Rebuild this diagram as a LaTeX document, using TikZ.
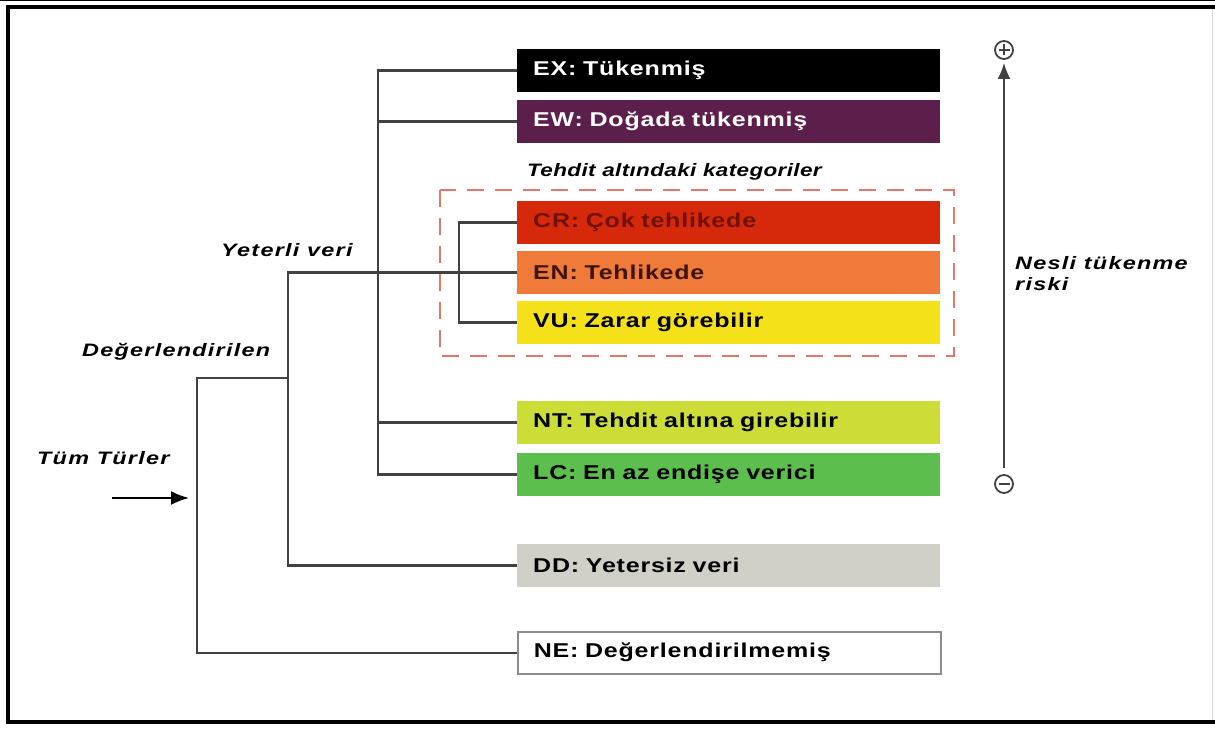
\documentclass[tikz,border=0pt]{standalone}
\usepackage{fontspec}
\setmainfont{Liberation Sans}
\newfontfamily\wfont[FakeStretch=1.25,LetterSpace=4]{Liberation Sans}
\newfontfamily\lfont[FakeStretch=1.25,LetterSpace=2]{Liberation Sans}
\newfontfamily\lwfont[FakeStretch=1.3,LetterSpace=7]{Liberation Sans}
\usetikzlibrary{arrows.meta}
\definecolor{treegray}{RGB}{65,65,65}
\definecolor{cEW}{RGB}{92,30,74}
\definecolor{cCR}{RGB}{214,40,10}
\definecolor{tCR}{RGB}{110,18,8}
\definecolor{cEN}{RGB}{240,122,58}
\definecolor{tEN}{RGB}{60,20,10}
\definecolor{cVU}{RGB}{245,225,25}
\definecolor{cNT}{RGB}{205,221,55}
\definecolor{cLC}{RGB}{92,190,76}
\definecolor{cDD}{RGB}{208,208,200}
\definecolor{cNEb}{RGB}{140,140,140}
\definecolor{dashred}{RGB}{225,120,110}
\begin{document}
\begin{tikzpicture}[x=1pt,y=-1pt,
  cat/.style={anchor=north west, minimum width=423pt, minimum height=43pt,
    inner xsep=16pt, inner ysep=0pt, text width=391pt, align=left,
    font=\wfont\bfseries\fontsize{20}{22}\selectfont},
  lab/.style={anchor=west, inner sep=0pt,
    font=\lwfont\bfseries\itshape\fontsize{18}{21}\selectfont},
  tree/.style={draw=treegray, line width=2.5pt},
  sign/.style={circle, draw=treegray, line width=1.8pt, minimum size=18pt, inner sep=0pt}
]
\useasboundingbox (0,0) rectangle (1215,733);
\fill[white] (0,0) rectangle (1215,733);
% frame
\draw[black, line width=0.8pt] (0,0.5) -- (1215,0.5);
\draw[black, line width=4pt] (7.5,7.5) -- (1215,7.5);
\draw[black, line width=4pt] (7.5,5.5) -- (7.5,722);
\draw[black, line width=4pt] (5.5,722) -- (1215,722);
\draw[black!15, line width=1pt] (1212,9) -- (1212,720);

% dashed threatened box
\draw[dashred, line width=2pt, dash pattern=on 17pt off 11pt] (440,190) rectangle (954,356);

% category boxes
\node[cat, fill=black, text=white] (EX) at (517,49) {EX: Tükenmiş};
\node[cat, fill=cEW, text=white] (EW) at (517,100) {EW: Doğada tükenmiş};
\node[cat, fill=cCR, text=tCR] (CR) at (517,201) {CR: Çok tehlikede};
\node[cat, fill=cEN, text=tEN] (EN) at (517,251) {EN: Tehlikede};
\node[cat, fill=cVU, text=black] (VU) at (517,301) {VU: Zarar görebilir};
\node[cat, fill=cNT, text=black] (NT) at (517,401) {NT: Tehdit altına girebilir};
\node[cat, fill=cLC, text=black] (LC) at (517,453) {LC: En az endişe verici};
\node[cat, fill=cDD, text=black] (DD) at (517,544) {DD: Yetersiz veri};
\node[cat, fill=white, draw=cNEb, line width=1.5pt, minimum height=42pt, text=black] (NE) at (517,631) {NE: Değerlendirilmemiş};

% labels
\node[lab] (yeterli) at (221,250) {Yeterli veri};
\node[lab] (degerl) at (82,352) {Değerlendirilen};
\node[lab] (tum) at (37,458) {Tüm Türler};
\node[lab, font=\lfont\bfseries\itshape\fontsize{18}{21}\selectfont] (tehdit) at (527,172) {Tehdit altındaki kategoriler};
\node[lab, anchor=north west, align=left] (nesli) at (1015,256) {Nesli tükenme\\riski};

% branch coordinates
\coordinate (j1) at (378,0);
\coordinate (j2) at (288,0);
\coordinate (j3) at (459,0);
\coordinate (j4) at (197,0);
\coordinate (d) at (288,378);

% tree connectors
\draw[tree] (EX.west) -- (EX.west -| j1) -- (LC.west -| j1) -- (LC.west);
\draw[tree] (EW.west) -- (EW.west -| j1);
\draw[tree] (NT.west) -- (NT.west -| j1);
\draw[tree] (EN.west) -- (EN.west -| j2) -- (DD.west -| j2) -- (DD.west);
\draw[tree] (CR.west) -- (CR.west -| j3) -- (VU.west -| j3) -- (VU.west);
\draw[tree] (d) -- (d -| j4) -- (NE.west -| j4) -- (NE.west);

% input arrow
\coordinate (tstart) at (112,498);
\coordinate (tend) at (189,498);
\draw[black, line width=2pt, -{Latex[length=18pt,width=14pt]}] (tstart) -- (tend);

% risk axis
\node[sign] (plus) at (1004,50) {};
\draw[treegray, line width=1.8pt] (plus.center) ++(-5.5,0) -- ++(11,0);
\draw[treegray, line width=1.8pt] (plus.center) ++(0,-5.5) -- ++(0,11);
\node[sign] (minus) at (1004,484) {};
\draw[treegray, line width=1.8pt] (minus.center) ++(-5.5,0) -- ++(11,0);
\draw[treegray, line width=2pt, -{Latex[length=16pt,width=13pt]}, shorten >=3pt, shorten <=6pt] (minus.north) -- (plus.south);
\end{tikzpicture}
\end{document}
